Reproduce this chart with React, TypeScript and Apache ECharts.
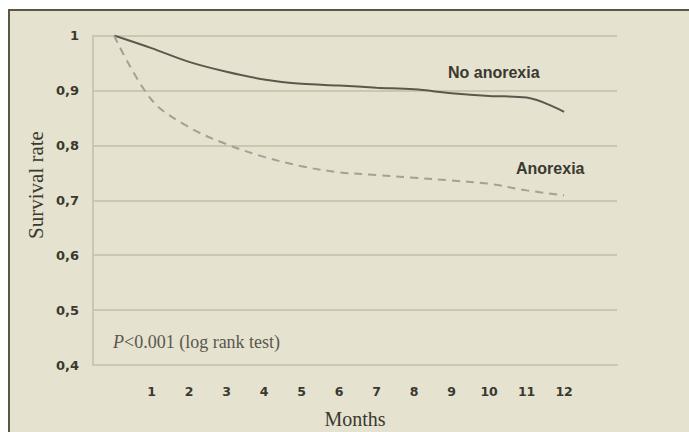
import React, { useEffect, useRef } from "react";
import * as echarts from "echarts";

const months = [0, 1, 2, 3, 4, 5, 6, 7, 8, 9, 10, 11, 12];
const noAnorexia = [1.0, 0.977, 0.952, 0.934, 0.92, 0.912, 0.909, 0.905, 0.902, 0.895, 0.89, 0.887, 0.861];
const anorexia = [1.0, 0.883, 0.833, 0.802, 0.779, 0.762, 0.751, 0.746, 0.741, 0.736, 0.73, 0.718, 0.709];
const monthTicks = [1, 2, 3, 4, 5, 6, 7, 8, 9, 10, 11, 12];
const yMin = 0.4;
const yMax = 1;
const yStep = 0.1;

const darkText = "#3a382f";

export default function App() {
  const ref = useRef<HTMLDivElement>(null);
  useEffect(() => {
    if (!ref.current) return;
    const chart = echarts.init(ref.current, null, { renderer: "svg" });
    chart.setOption({
      animation: false,
      backgroundColor: "transparent",
      grid: { left: 93, right: 72, top: 35.5, bottom: 67 },
      xAxis: {
        type: "value",
        min: -0.56,
        max: 13.41,
        splitLine: { show: false },
        axisTick: { show: false },
        axisLine: { show: true, onZero: false, lineStyle: { color: "#cbc8b2", width: 2 } },
        axisLabel: {
          customValues: monthTicks,
          margin: 20,
          color: darkText,
          fontFamily: "DejaVu Sans",
          fontWeight: "bold",
          fontSize: 12.5,
        },
      },
      yAxis: {
        type: "value",
        min: yMin,
        max: yMax,
        interval: yStep,
        axisTick: { show: false },
        axisLine: { show: true, onZero: false, lineStyle: { color: "#cbc8b2", width: 2 } },
        splitLine: { show: true, lineStyle: { color: "#cbc8b2", width: 2 } },
        axisLabel: {
          margin: 14,
          color: darkText,
          fontFamily: "DejaVu Sans",
          fontWeight: "bold",
          fontSize: 13,
          formatter: (v: number) => (Math.abs(v - 1) < 1e-9 ? "1" : v.toFixed(1).replace(".", ",")),
        },
      },
      series: [
        {
          name: "No anorexia",
          type: "line",
          data: months.map((m, i) => [m, noAnorexia[i]]),
          showSymbol: false,
          symbol: "none",
          smooth: 0.35,
          lineStyle: { color: "#5b594d", width: 2 },
          z: 5,
        },
        {
          name: "Anorexia",
          type: "line",
          data: months.map((m, i) => [m, anorexia[i]]),
          showSymbol: false,
          symbol: "none",
          smooth: 0.35,
          lineStyle: { color: "#a3a196", width: 2, type: [8, 6] },
          z: 5,
        },
      ],
      graphic: [
        {
          type: "text",
          x: 448,
          y: 72,
          style: {
            text: "No anorexia",
            fill: darkText,
            font: "bold 16px 'Liberation Sans'",
            verticalAlign: "middle",
          },
        },
        {
          type: "text",
          x: 516,
          y: 168,
          style: {
            text: "Anorexia",
            fill: darkText,
            font: "bold 16px 'Liberation Sans'",
            verticalAlign: "middle",
          },
        },
        {
          type: "text",
          x: 113,
          y: 342,
          style: {
            text: "{i|P}<0.001 (log rank test)",
            fill: "#5a574c",
            font: "18px 'Liberation Serif'",
            verticalAlign: "middle",
            rich: {
              i: { fontStyle: "italic", fontFamily: "Liberation Serif", fontSize: 18, fill: "#5a574c" },
            },
          },
        },
        {
          type: "text",
          x: 355,
          y: 419,
          style: {
            text: "Months",
            fill: darkText,
            font: "20px 'Liberation Serif'",
            align: "center",
            verticalAlign: "middle",
          },
        },
        {
          type: "text",
          x: 36,
          y: 185,
          rotation: Math.PI / 2,
          style: {
            text: "Survival rate",
            fill: darkText,
            font: "21px 'Liberation Serif'",
            align: "center",
            verticalAlign: "middle",
          },
        },
      ],
    });
    return () => chart.dispose();
  }, []);

  return (
    <div style={{ position: "fixed", left: 0, top: 0, width: 689, height: 432, background: "#ffffff" }}>
      <div
        style={{
          position: "absolute",
          left: 8,
          top: 9,
          width: 681,
          height: 423,
          background: "#e5e2cf",
          borderTop: "2px solid #5a5844",
          borderLeft: "2px solid #5a5844",
          boxSizing: "border-box",
        }}
      />
      <div ref={ref} style={{ position: "absolute", left: 0, top: 0, width: 689, height: 432 }} />
    </div>
  );
}
